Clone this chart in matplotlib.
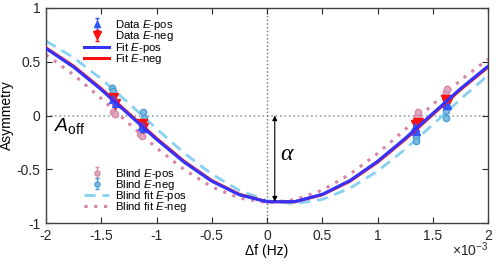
import numpy as np
import matplotlib
matplotlib.use("Agg")
import matplotlib.pyplot as plt

plt.rcParams['font.family'] = ['Liberation Sans', 'DejaVu Sans']
plt.rcParams['axes.unicode_minus'] = False
plt.rcParams['mathtext.fontset'] = 'custom'
plt.rcParams['mathtext.it'] = 'Liberation Sans:italic'
plt.rcParams['mathtext.rm'] = 'Liberation Sans'

# frequency detuning in units of 1e-3 Hz
fit_x = [-2, -1.75, -1.5, -1.25, -1, -0.75, -0.5, -0.25, 0, 0.25, 0.5, 0.75, 1, 1.25, 1.5, 1.75, 2]
fit_pos = [0.623, 0.450, 0.240, 0.009, -0.222, -0.434, -0.611, -0.737, -0.802,
           -0.801, -0.733, -0.605, -0.426, -0.213, 0.019, 0.249, 0.458]
fit_neg = [0.629, 0.458, 0.249, 0.018, -0.213, -0.426, -0.605, -0.733, -0.801,
           -0.802, -0.737, -0.611, -0.434, -0.222, 0.010, 0.240, 0.450]
blind_fit_pos = [0.692, 0.538, 0.340, 0.113, -0.123, -0.349, -0.545, -0.697, -0.791,
                 -0.820, -0.780, -0.677, -0.517, -0.314, -0.085, 0.151, 0.374]
blind_fit_neg = [0.566, 0.378, 0.158, -0.075, -0.301, -0.503, -0.663, -0.768, -0.810,
                 -0.784, -0.694, -0.546, -0.353, -0.130, 0.103, 0.327, 0.525]

data_x_pos = [-1.39, -1.37, -1.13, -1.11, 1.34, 1.35, 1.62, 1.63]
data_y_pos = [0.15, 0.12, -0.10, -0.12, -0.11, -0.14, 0.12, 0.10]
data_x_neg = [-1.39, -1.38, -1.13, -1.12, 1.35, 1.37, 1.62, 1.63]
data_y_neg = [0.16, 0.11, -0.08, -0.12, -0.09, -0.07, 0.14, 0.12]
data_err = 0.02

blind_x_pos = [-1.39, -1.38, -1.15, -1.13, 1.36, 1.37, 1.62, 1.63]
blind_y_pos = [0.03, 0.01, -0.17, -0.19, 0.00, 0.03, 0.22, 0.25]
blind_x_neg = [-1.40, -1.39, -1.12, -1.11, 1.35, 1.35, 1.62, 1.62]
blind_y_neg = [0.26, 0.23, 0.03, -0.02, -0.20, -0.24, 0.04, -0.02]
blind_err = 0.02

fig = plt.figure(figsize=(4.98, 2.64), dpi=100)
ax = fig.add_axes([0.0924, 0.155, 0.8876, 0.815])

ax.axhline(0, color='#8fa3ad', ls=':', lw=1.2, zorder=1)
ax.axvline(0, color='#707070', ls=':', lw=1.0, zorder=1)

h_bfp, = ax.plot(fit_x, blind_fit_pos, color='#86d0f2', ls=(0, (4, 2.5)), lw=2.0, zorder=2)
h_bfn, = ax.plot(fit_x, blind_fit_neg, color='#d97fa6', ls=(0, (1, 2.2)), lw=2.2, zorder=2)

h_bp = ax.errorbar(blind_x_pos, blind_y_pos, yerr=blind_err, fmt='o', ms=4.5,
                   color='#d98aa8', mfc='#e3a9bf', mec='#d98aa8', capsize=1.5, lw=1, zorder=3)
h_bn = ax.errorbar(blind_x_neg, blind_y_neg, yerr=blind_err, fmt='o', ms=4.5,
                   color='#4d9fd3', mfc='#7dbbe3', mec='#4d9fd3', capsize=1.5, lw=1, zorder=3)

h_dn = ax.errorbar(data_x_neg, data_y_neg, yerr=data_err, fmt='v', ms=6.5,
                   color='#ff1010', capsize=1.5, lw=1, zorder=4)
h_dp = ax.errorbar(data_x_pos, data_y_pos, yerr=data_err, fmt='^', ms=5.5,
                   color='#3355ff', capsize=1.5, lw=1, zorder=4)

h_fn, = ax.plot(fit_x, fit_neg, color='#ff1010', lw=2.2, zorder=5)
h_fp, = ax.plot(fit_x, fit_pos, color='#3333ff', lw=2.2, zorder=6)

# alpha arrow from offset to minimum
ax.annotate('', xy=(0.07, -0.80), xytext=(0.07, 0.0),
            arrowprops=dict(arrowstyle='<|-|>', color='black', lw=0.8,
                            mutation_scale=7, shrinkA=0, shrinkB=0), zorder=7)
ax.text(0.12, -0.36, 'α', fontsize=17, family='Liberation Serif', style='italic', va='center')
ax.text(-1.93, -0.1, r'$A_{\mathrm{off}}$', fontsize=14, va='center')

ax.set_xlim(-2, 2)
ax.set_ylim(-1, 1)
ax.set_xticks(np.arange(-2, 2.01, 0.5))
ax.set_yticks([-1, -0.5, 0, 0.5, 1])
ax.set_xticklabels(['%g' % t for t in np.arange(-2, 2.01, 0.5)])
ax.set_yticklabels(['-1', '-0.5', '0', '0.5', '1'])
ax.tick_params(direction='in', top=True, right=True, length=4, width=0.8,
               labelsize=10, colors='#262626', pad=4)
for s in ax.spines.values():
    s.set_color('#404040')
    s.set_linewidth(1.0)

ax.set_xlabel('Δf (Hz)', fontsize=10, labelpad=1)
ax.set_ylabel('Asymmetry', fontsize=10, labelpad=2)
ax.text(1.0, -0.125, r'$\times\mathregular{10^{-3}}$', transform=ax.transAxes,
        ha='right', va='center', fontsize=10, color='#262626')

leg_kw = dict(loc='upper left', frameon=False, fontsize=8.2, labelspacing=-0.24,
              handlelength=2.2, handletextpad=0.5, borderpad=0.2, markerscale=0.8)
leg1 = ax.legend([h_dp, h_dn, h_fp, h_fn],
                 ['Data $E$-pos', 'Data $E$-neg', 'Fit $E$-pos', 'Fit $E$-neg'],
                 bbox_to_anchor=(0.068, 0.99), **leg_kw)
ax.add_artist(leg1)
ax.legend([h_bp, h_bn, h_bfp, h_bfn],
          ['Blind $E$-pos', 'Blind $E$-neg', 'Blind fit $E$-pos', 'Blind fit $E$-neg'],
          bbox_to_anchor=(0.068, 0.3), **leg_kw)

fig.savefig('out.png', dpi=100)
